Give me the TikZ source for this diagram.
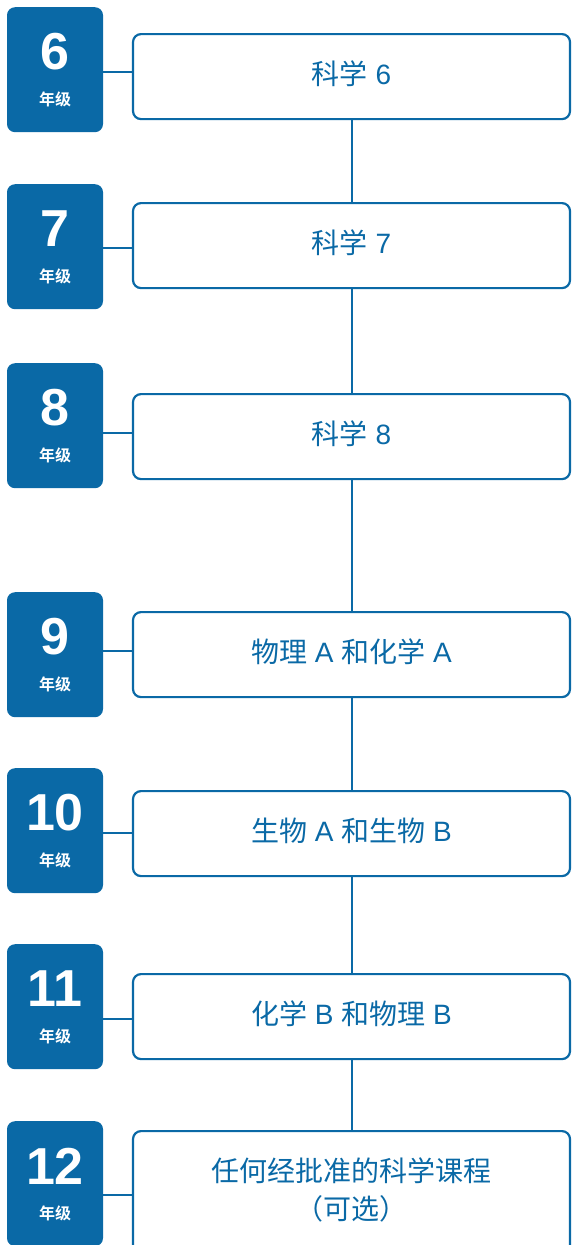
\documentclass[tikz,border=0pt]{standalone}
\usepackage{fontspec}
\setmainfont{Liberation Sans}
\newfontfamily\cjk{Noto Sans CJK SC}[BoldFont={Noto Sans CJK SC Bold}]
\definecolor{mainblue}{HTML}{0A69A6}
\tikzset{
  grade/.style={fill=mainblue, draw=none, rounded corners=8pt, minimum width=96pt, minimum height=125pt, inner sep=0pt, anchor=north},
  gnum/.style={text=white, font=\bfseries\fontsize{52}{52}\selectfont, inner sep=0pt},
  glab/.style={text=white, font=\cjk\bfseries\fontsize{16}{16}\selectfont, inner sep=0pt},
  course/.style={draw=mainblue, line width=2.2pt, rounded corners=8pt, minimum width=437pt, minimum height=85pt, inner sep=0pt, anchor=north, text=mainblue, font=\fontsize{28}{34}\selectfont, text height=25pt, text depth=10pt},
  link/.style={draw=mainblue, line width=2pt}
}
\begin{document}
\begin{tikzpicture}[x=1pt,y=-1pt]
\useasboundingbox (0,0) rectangle (571,1245);
% grade boxes
\foreach \n/\t in {6/7,7/184,8/363,9/592,10/768,11/944,12/1121}{
  \node[grade] (g\n) at (55,\t) {};
  \node[gnum] (n\n) at (55,\t+45) {\n};
  \node[glab] (l\n) at (55,\t+92) {年级};
}
% course boxes
\node[course] (c6) at (351.5,33) {{\cjk 科学} 6};
\node[course] (c7) at (351.5,202) {{\cjk 科学} 7};
\node[course] (c8) at (351.5,393) {{\cjk 科学} 8};
\node[course] (c9) at (351.5,611) {{\cjk 物理} A {\cjk 和化学} A};
\node[course] (c10) at (351.5,790) {{\cjk 生物} A {\cjk 和生物} B};
\node[course] (c11) at (351.5,973) {{\cjk 化学} B {\cjk 和物理} B};
\node[course, minimum height=135pt] (c12) at (351.5,1130) {};
\node[text=mainblue, align=center, inner sep=0pt, font=\cjk\fontsize{28}{38}\selectfont] (t12) at (351.5,1190) {任何经批准的科学课程\\（可选）};
% horizontal links
\foreach \n/\y in {6/72,7/248,8/433,9/651,10/833,11/1019,12/1195}{
  \coordinate (k\n) at (0,\y);
  \draw[link] (g\n.east |- k\n) -- (c\n.west |- k\n);
}
% vertical links
\foreach \a/\b in {6/7,7/8,8/9,9/10,10/11,11/12}{
  \draw[link] (c\a.south) -- (c\b.north);
}
\end{tikzpicture}
\end{document}
